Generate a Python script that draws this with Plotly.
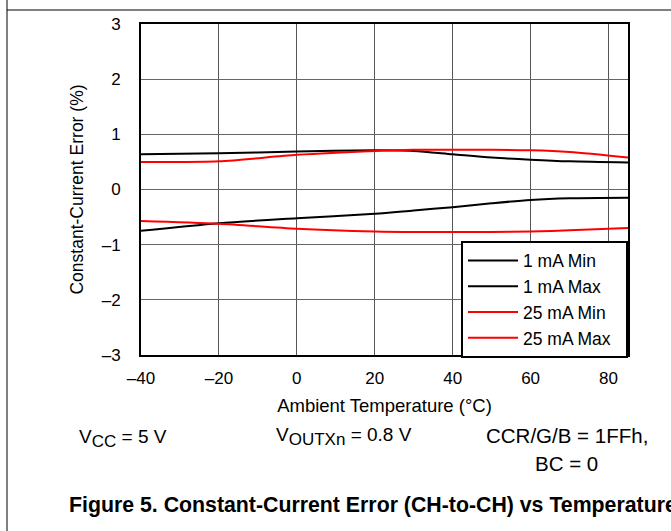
import plotly.graph_objects as go

temps = [-40, -20, 0, 20, 30, 40, 50, 60, 70, 85]
ma1_min = [-0.75, -0.61, -0.52, -0.44, -0.38, -0.32, -0.25, -0.19, -0.16, -0.15]
ma1_max = [0.64, 0.655, 0.69, 0.71, 0.70, 0.64, 0.58, 0.54, 0.51, 0.49]
ma25_min = [-0.57, -0.62, -0.71, -0.76, -0.77, -0.77, -0.77, -0.76, -0.74, -0.70]
ma25_max = [0.50, 0.51, 0.63, 0.70, 0.72, 0.72, 0.72, 0.71, 0.68, 0.58]

series_names = ["1 mA Min", "1 mA Max", "25 mA Min", "25 mA Max"]

x_ticks = [-40, -20, 0, 20, 40, 60, 80]
x_ticktext = ["–40", "–20", "0", "20", "40", "60", "80"]
y_ticks = [-3, -2, -1, 0, 1, 2, 3]
y_ticktext = ["–3", "–2", "–1", "0", "1", "2", "3"]

W, H = 671, 531
L, R, T, B = 141, 628, 24, 355

def px(x):
    return (x - L) / (R - L)

def py(y):
    return (B - y) / (B - T)

FONT = "Liberation Sans, Arial, sans-serif"
PAD = "\u00a0\u00a0"

fig = go.Figure()
series = [(series_names[0], ma1_min, "black"), (series_names[1], ma1_max, "black"),
          (series_names[2], ma25_min, "#ff0000"), (series_names[3], ma25_max, "#ff0000")]
for i, (name, vals, col) in enumerate(series):
    fig.add_trace(go.Scatter(x=temps, y=vals, name=name + PAD, mode="lines", legendgroup=f"g{i}",
                             line=dict(color=col, width=2, shape="spline", smoothing=0.8)))

fig.update_layout(
    width=W, height=H,
    margin=dict(l=L, r=W - R, t=T, b=H - B),
    paper_bgcolor="white", plot_bgcolor="white",
    font=dict(family=FONT, size=16, color="black"),
    xaxis=dict(range=[-40, 85], tickvals=x_ticks, ticktext=x_ticktext,
               showgrid=True, gridcolor="#555", gridwidth=1, zeroline=False,
               showline=True, linecolor="black", linewidth=2, mirror=True,
               ticks="", ticklabelstandoff=7, tickfont=dict(size=17),
               title=dict(text="Ambient Temperature (°C)", font=dict(size=18.5), standoff=12)),
    yaxis=dict(range=[-3, 3], tickvals=y_ticks, ticktext=y_ticktext,
               showgrid=True, gridcolor="#666", gridwidth=1, zeroline=False,
               showline=True, linecolor="black", linewidth=2, mirror=True,
               ticks="", ticklabelstandoff=15, tickfont=dict(size=17),
               title=dict(text="Constant-Current Error (%)", font=dict(size=17.5), standoff=14)),
    legend=dict(x=1, y=-0.008, xanchor="right", yanchor="bottom",
                bordercolor="black", borderwidth=2, bgcolor="white",
                font=dict(size=17.5), traceorder="grouped", tracegroupgap=0, itemwidth=50),
    showlegend=True,
)

# frame lines
fig.add_shape(type="line", xref="paper", yref="paper", x0=px(7), x1=px(7), y0=py(0), y1=py(H),
              line=dict(color="black", width=1))
fig.add_shape(type="line", xref="paper", yref="paper", x0=px(7), x1=px(W), y0=py(10), y1=py(10),
              line=dict(color="black", width=1))

ann = dict(xref="paper", yref="paper", showarrow=False, font=dict(size=19, family=FONT))
sub = lambda s: f"<sub><span style='font-size:17px'>{s}</span></sub>"
fig.add_annotation(text="V" + sub("CC") + " = 5 V", x=px(77), y=py(438), xanchor="left", yanchor="middle", **ann)
fig.add_annotation(text="V" + sub("OUTXn") + " = 0.8 V", x=px(274), y=py(436), xanchor="left", yanchor="middle", **ann)
fig.add_annotation(text="CCR/G/B = 1FFh,", x=px(484), y=py(435), xanchor="left", yanchor="middle",
                   xref="paper", yref="paper", showarrow=False, font=dict(size=20.5, family=FONT))
fig.add_annotation(text="BC = 0", x=px(533), y=py(463.5), xanchor="left", yanchor="middle",
                   xref="paper", yref="paper", showarrow=False, font=dict(size=20.5, family=FONT))
fig.add_annotation(text="<b>Figure 5. Constant-Current Error (CH-to-CH) vs Temperature</b>",
                   x=px(67), y=py(505), xanchor="left", yanchor="middle",
                   xref="paper", yref="paper", showarrow=False, font=dict(size=21.3, family=FONT))

fig.write_html("out.html", post_script="document.body.style.margin='0';",
               config={"displayModeBar": False})
